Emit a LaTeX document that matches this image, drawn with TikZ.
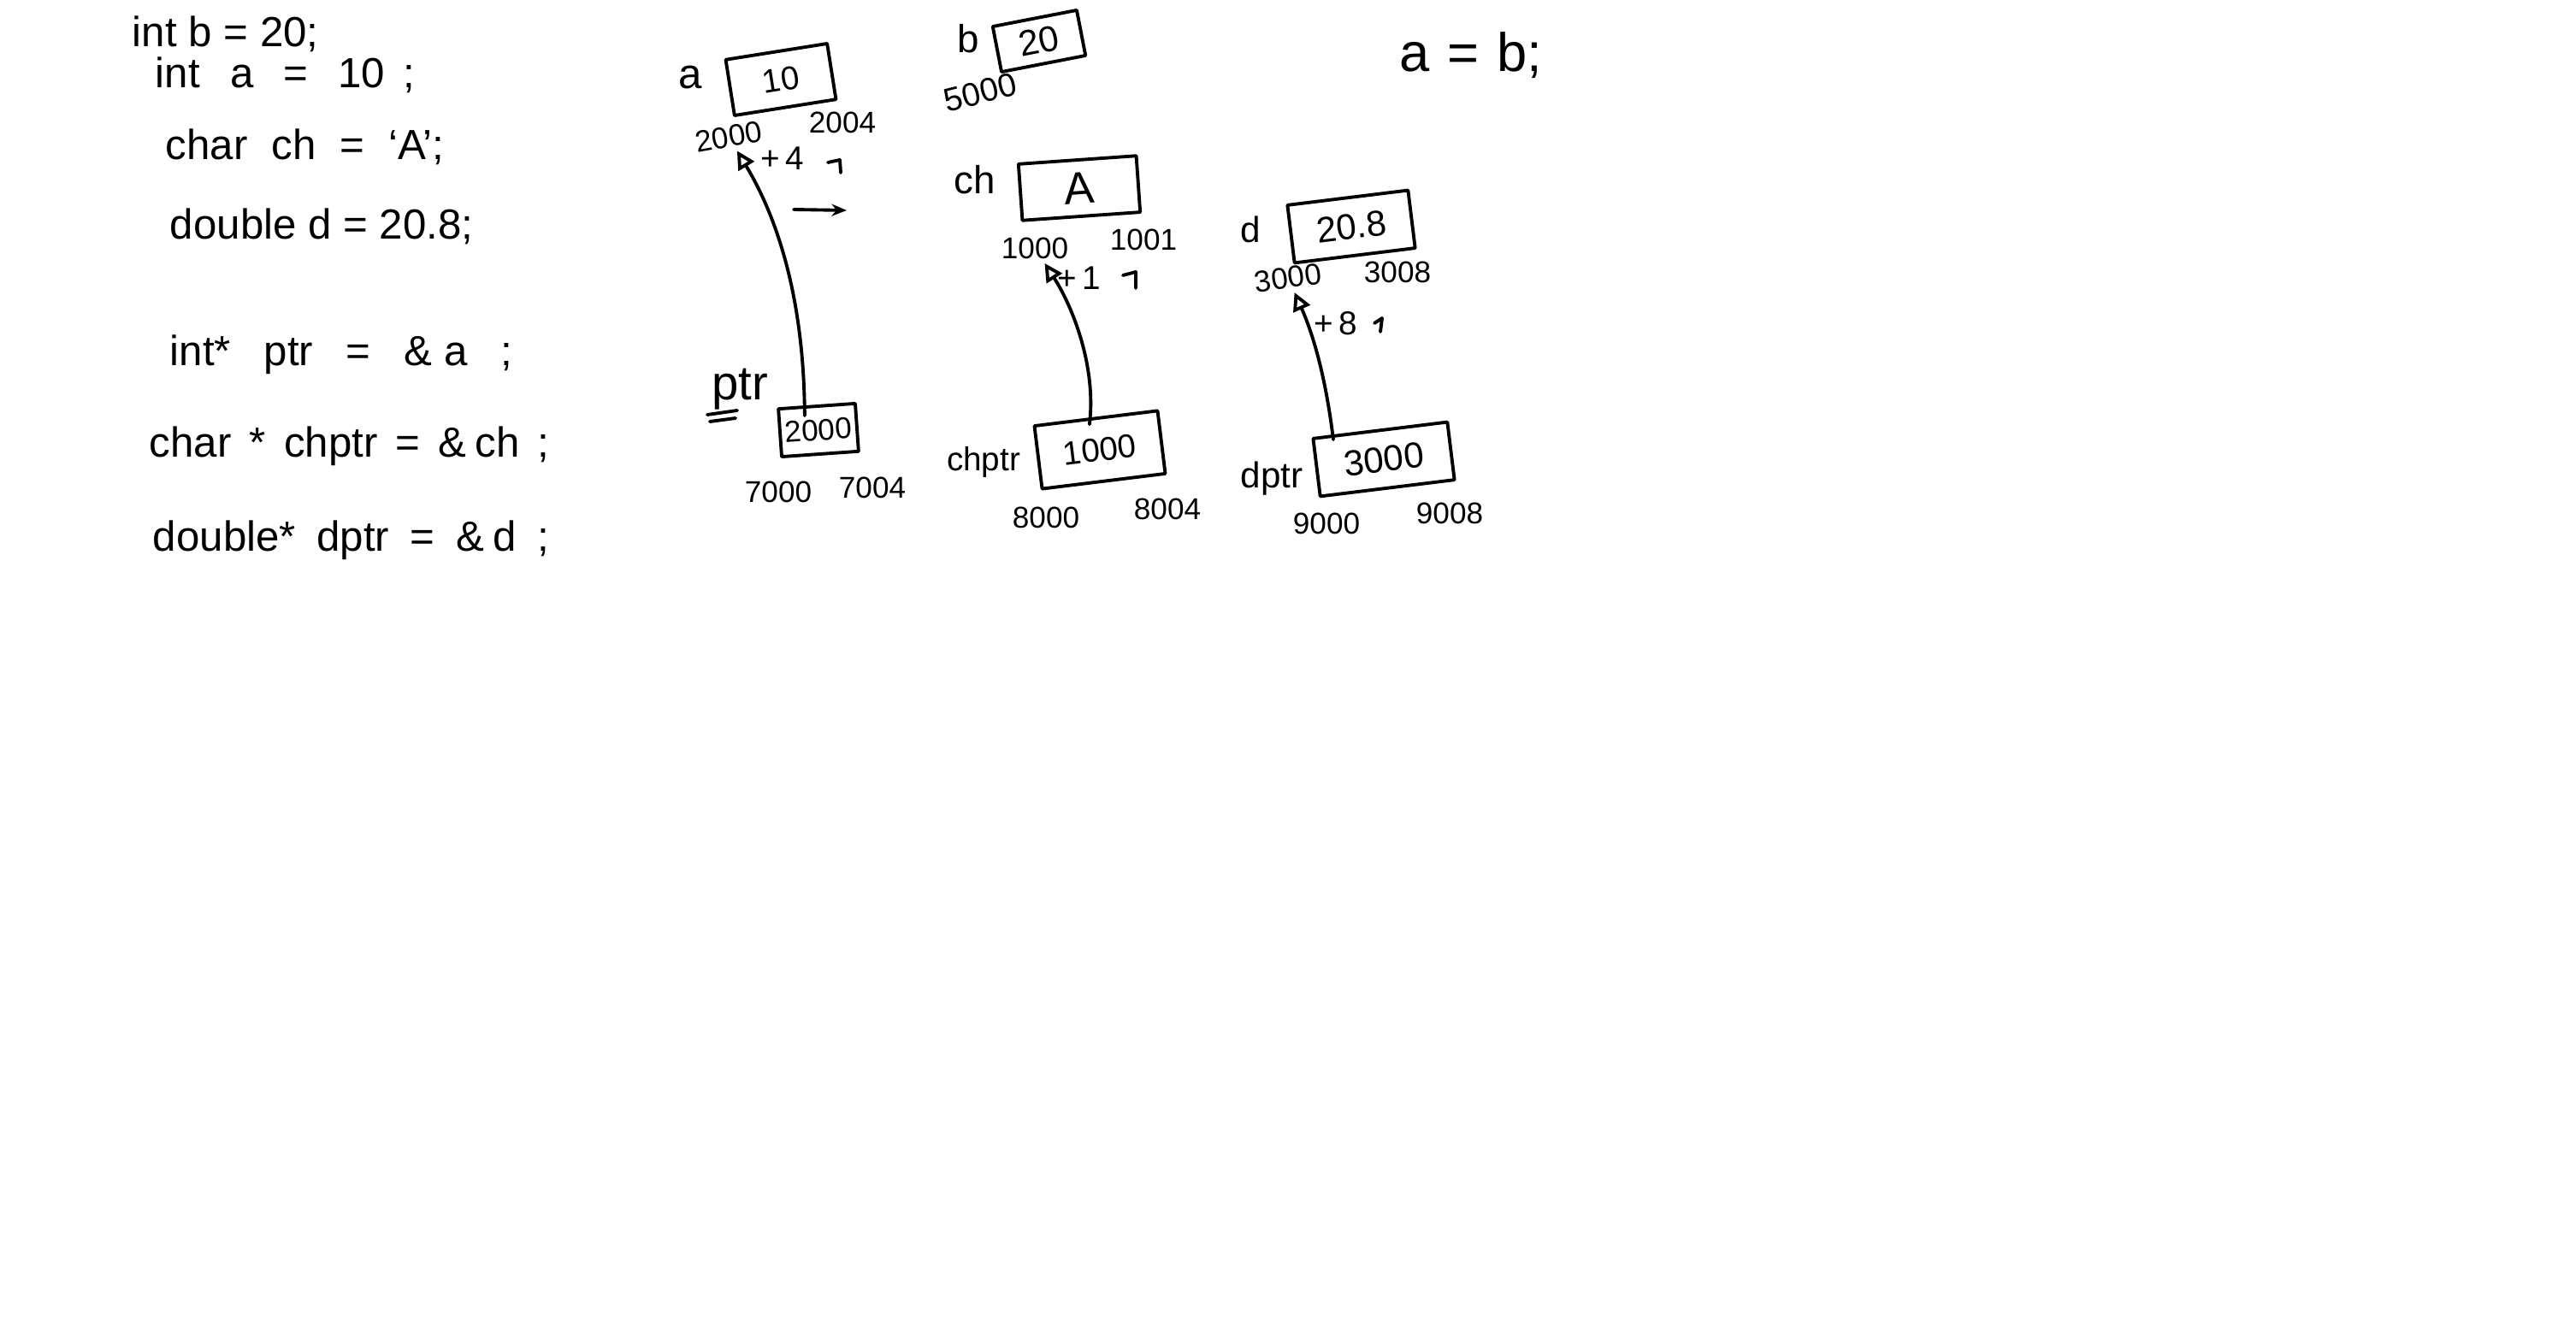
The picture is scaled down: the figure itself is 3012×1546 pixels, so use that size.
\documentclass[tikz,border=0pt]{standalone}
\usepackage{fontspec}
\setmainfont{Liberation Sans}
\usetikzlibrary{arrows.meta,calc}
\newcommand\myfs[1]{\fontsize{#1}{#1}\selectfont}
\newcommand\gap[1]{\hspace{#1pt}}
\begin{document}
\begin{tikzpicture}[x=0.01cm,y=-0.01cm,line width=1.1pt,line cap=round,line join=round,
  code/.style={anchor=west,inner sep=0pt,font={\myfs{14}}},
  lbl/.style={inner sep=1pt},
  addr/.style={inner sep=1pt,font={\myfs{10}}},
  mem/.style={draw,rectangle,inner sep=0pt},
  ptrarrow/.style={-{Triangle[open,length=6pt,width=6pt]}},
  smallarrow/.style={-{Stealth[length=5pt,width=4pt]}}]
\useasboundingbox (0,0) rectangle (3012,1546);
\fill[white] (0,0) rectangle (3012,1546);

% code lines
\node[code] (l1) at (153,40)  {int b = 20;};
\node[code] (l2) at (180,88)  {int\gap{10}a\gap{10}=\gap{10}10\gap{6};};
\node[code] (l3) at (192,172) {char\gap{8}ch\gap{8}=\gap{8}`A';};
\node[code] (l4) at (197,265) {double d = 20.8;};
\node[code] (l5) at (197,415) {int*\gap{11}ptr\gap{11}=\gap{11}\&\gap{4}a\gap{11};};
\node[code] (l6) at (173,522) {char\gap{6}*\gap{6}chptr\gap{6}=\gap{6}\&\gap{3}ch\gap{6};};
\node[code] (l7) at (177,632) {double*\gap{7}dptr\gap{7}=\gap{7}\&\gap{3}d\gap{7};};

% variable a
\node[lbl,font={\myfs{14}}] (alab) at (807,90) {a};
\node[mem,minimum width=1.2cm,minimum height=0.66cm,rotate=9,font={\myfs{11}}] (abox) at (913,93) {10};
\node[addr,rotate=10] (a2000) at (852,160) {2000};
\node[addr] (a2004) at (985,143) {2004};
\node[lbl,font={\myfs{11}}] (aplus) at (915,185) {+\,4};
\draw (968,190) -- (982,187) -- (983,202);
\coordinate (h1) at (928,245);
\coordinate (h2) at (990,246);
\draw[smallarrow] (h1) -- (h2);

% variable b
\node[lbl,font={\myfs{13}}] (blab) at (1132,45) {b};
\node[mem,minimum width=1.0cm,minimum height=0.54cm,rotate=11,font={\myfs{12}}] (bbox) at (1215,48) {20};
\node[addr,rotate=14,font={\myfs{11}}] (b5000) at (1146,108) {5000};

% variable ch
\node[lbl,font={\myfs{13}}] (chlab) at (1140,210) {ch};
\node[mem,minimum width=1.38cm,minimum height=0.66cm,rotate=4,font={\myfs{15}}] (chbox) at (1262,220) {A};
\node[addr] (c1000) at (1210,290) {1000};
\node[addr] (c1001) at (1337,280) {1001};
\node[lbl,font={\myfs{11}}] (chplus) at (1262,325) {+\,1};
\draw (1313,322) -- (1328,318) -- (1328,337);

% variable d
\node[lbl,font={\myfs{12}}] (dlab) at (1462,268) {d};
\node[mem,minimum width=1.42cm,minimum height=0.68cm,rotate=7,font={\myfs{12}}] (dbox) at (1580,265) {20.8};
\node[addr,rotate=8] (d3000) at (1506,325) {3000};
\node[addr] (d3008) at (1634,318) {3008};
\node[lbl,font={\myfs{11}}] (dplus) at (1562,378) {+\,8};
\draw (1607,378) -- (1616,372) -- (1614,388);

% ptr
\node[lbl,font={\myfs{16}}] (ptrlab) at (865,455) {ptr};
\draw (827,485) -- (862,480);
\draw (830,493) -- (860,489);
\node[mem,minimum width=0.9cm,minimum height=0.56cm,rotate=4,font={\myfs{10}}] (ptrbox) at (957,503) {2000};
\node[addr] (p7000) at (910,575) {7000};
\node[addr] (p7004) at (1020,570) {7004};

% chptr
\node[lbl,font={\myfs{11}}] (chplab) at (1150,540) {chptr};
\node[mem,minimum width=1.45cm,minimum height=0.74cm,rotate=7,font={\myfs{11}}] (chpbox) at (1286,526) {1000};
\node[addr] (c8000) at (1223,605) {8000};
\node[addr] (c8004) at (1365,595) {8004};

% dptr
\node[lbl,font={\myfs{12}}] (dplab) at (1487,560) {dptr};
\node[mem,minimum width=1.58cm,minimum height=0.68cm,rotate=7,font={\myfs{12}}] (dpbox) at (1618,537) {3000};
\node[addr] (d9000) at (1551,612) {9000};
\node[addr] (d9008) at (1695,600) {9008};

% a = b;
\node[lbl,font={\myfs{18}}] (assign) at (1720,65) {a\gap{6}=\gap{6}b;};

% pointer connectors
\draw[ptrarrow] ($(ptrbox.north west)!0.35!(ptrbox.north east)+(0,12)$)
  .. controls (940,330) and (900,240) .. (a2000);
\draw[ptrarrow] ($(chpbox.north west)!0.45!(chpbox.north east)+(0,8)$)
  .. controls (1282,430) and (1255,360) .. (c1000);
\draw[ptrarrow] ($(dpbox.north west)!0.16!(dpbox.north east)+(0,6)$)
  .. controls (1550,440) and (1535,390) .. (d3000);
\end{tikzpicture}
\end{document}
